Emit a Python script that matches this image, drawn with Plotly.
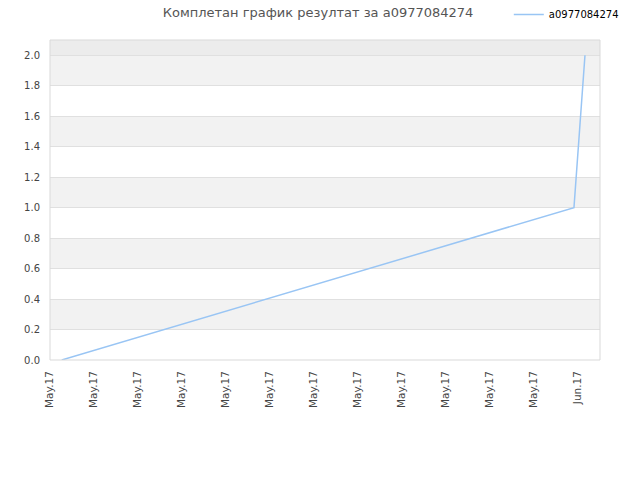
import plotly.graph_objects as go

# ── Data ──────────────────────────────────────────────
series_name = "a0977084274"
dates = ["2017-05-02 16:00", "2017-05-31 18:30", "2017-06-01 09:30"]
values = [0, 1, 2]
y_ticks = [0.0, 0.2, 0.4, 0.6, 0.8, 1.0, 1.2, 1.4, 1.6, 1.8, 2.0]
title = "Комплетан график резултат за a0977084274"
# ──────────────────────────────────────────────────────

fig = go.Figure()
fig.add_trace(go.Scatter(
    x=dates, y=values, mode="lines", name=series_name,
    line=dict(color="#99c5f4", width=1.5),
))

# alternating bands between grid lines
shapes = []
for i in range(len(y_ticks) - 1):
    if i % 2 == 1:
        shapes.append(dict(type="rect", xref="paper", yref="y", x0=0, x1=1,
                           y0=y_ticks[i], y1=y_ticks[i + 1],
                           fillcolor="#f2f2f2", line_width=0, layer="below"))
shapes.append(dict(type="rect", xref="paper", yref="y", x0=0, x1=1,
                   y0=y_ticks[-1], y1=2.1,
                   fillcolor="#ececec", line_width=0, layer="below"))
shapes.append(dict(type="rect", xref="paper", yref="paper", x0=0, x1=1, y0=0, y1=1,
                   line=dict(color="#d9d9d9", width=1), fillcolor="rgba(0,0,0,0)"))

fig.update_layout(
    width=640, height=480,
    margin=dict(l=50, r=40, t=40, b=120),
    paper_bgcolor="white", plot_bgcolor="white",
    font=dict(family="DejaVu Sans, sans-serif", size=10, color="#444"),
    title=dict(text=title, x=0.497, xanchor="center", y=0.975, yanchor="middle",
               font=dict(size=13, color="#555")),
    showlegend=True,
    # container coords so the legend does not eat into the plot margins
    legend=dict(xref="container", yref="container", orientation="h",
                x=0.795, y=1.0, xanchor="left", yanchor="top",
                font=dict(size=10, color="#000"), bgcolor="rgba(0,0,0,0)",
                itemwidth=30),
    shapes=shapes,
    xaxis=dict(
        type="date", range=["2017-05-02", "2017-06-02 06:00"],
        tick0="2017-05-02", dtick=2.5 * 86400000, tickformat="%b.%y",
        tickangle=-90, showgrid=False, zeroline=False, showline=False,
        ticks="", ticklabelstandoff=8, tickfont=dict(size=10.5, color="#444"),
    ),
    yaxis=dict(
        range=[0, 2.1], tickvals=y_ticks, tickformat=".1f",
        showgrid=True, gridcolor="#e0e0e0", gridwidth=1, zeroline=False,
        showline=False, ticks="", ticklabelstandoff=9,
        tickfont=dict(size=10, color="#444"),
    ),
)

# drop the default 8px page margin so the figure sits at the window corner
fig.write_html("out.html", config={"displayModeBar": False},
               post_script="document.body.style.margin='0';")
